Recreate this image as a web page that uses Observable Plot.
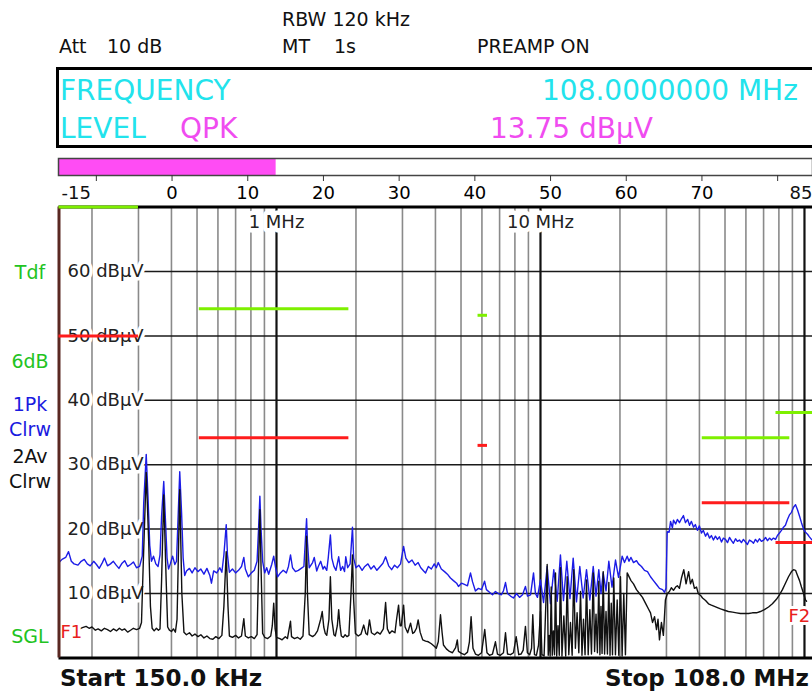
<!DOCTYPE html>
<html><head><meta charset="utf-8">
<script src="https://cdn.jsdelivr.net/npm/d3@7"></script>
<script src="https://cdn.jsdelivr.net/npm/@observablehq/plot@0.6"></script>
<style>
html,body{margin:0;padding:0;background:#fff;}
#page{position:relative;width:812px;height:692px;overflow:hidden;font-family:"DejaVu Sans",sans-serif;background:#fff;}
#page svg{position:absolute;left:0;}
.t{position:absolute;white-space:nowrap;line-height:1;color:#111;}
.side{position:absolute;left:0;width:60px;text-align:center;font-size:19px;line-height:1;}
</style></head><body><div id="page"></div>
<script>
// ---- sweep definition ----
const startFreq = 0.15, stopFreq = 108;          // MHz
const levelTicks = [10, 20, 30, 40, 50, 60];      // dBµV
const minorFreqs = [0.2,0.3,0.4,0.5,0.6,0.7,0.8,0.9, 2,3,4,5,6,7,8,9, 20,30,40,50,60,70,80,90];
const decadeFreqs = [1, 10, 100];
const decadeLabels = [1, 10];

// ---- trace 1: peak (1Pk Clrw) ----
const peakFreq = [0.150,0.154,0.159,0.163,0.167,0.171,0.177,0.182,0.187,0.192,0.197,0.203,0.208,0.213,0.219,0.223,0.229,0.235,0.241,0.247,0.253,0.260,0.266,0.273,0.280,0.287,0.295,0.303,0.310,0.314,0.321,0.326,0.331,0.336,0.342,0.349,0.356,0.362,0.367,0.374,0.380,0.385,0.390,0.396,0.404,0.412,0.418,0.424,0.430,0.437,0.443,0.449,0.456,0.468,0.479,0.491,0.504,0.517,0.531,0.545,0.559,0.567,0.578,0.594,0.610,0.621,0.632,0.645,0.652,0.663,0.681,0.700,0.718,0.737,0.752,0.762,0.782,0.803,0.824,0.844,0.855,0.865,0.874,0.886,0.902,0.918,0.934,0.959,0.976,0.992,1.01,1.035,1.06,1.09,1.11,1.13,1.15,1.18,1.21,1.24,1.27,1.285,1.30,1.31,1.33,1.37,1.39,1.42,1.44,1.47,1.50,1.52,1.55,1.57,1.60,1.62,1.65,1.68,1.72,1.75,1.78,1.81,1.83,1.86,1.90,1.94,1.96,2.00,2.05,2.11,2.16,2.22,2.28,2.34,2.40,2.47,2.53,2.59,2.66,2.73,2.80,2.87,2.95,3.03,3.09,3.17,3.26,3.35,3.44,3.52,3.61,3.67,3.76,3.86,3.96,4.03,4.10,4.21,4.33,4.44,4.56,4.68,4.81,4.89,5.02,5.15,5.29,5.43,5.53,5.67,5.82,5.98,6.14,6.24,6.41,6.58,6.75,6.93,7.11,7.24,7.37,7.50,7.70,7.90,8.11,8.33,8.55,8.77,8.93,9.17,9.41,9.57,9.74,10.0,10.27,10.60,10.91,11.23,11.57,11.90,12.22,12.58,12.93,13.30,13.69,14.09,14.51,14.94,15.38,15.84,16.23,16.63,16.95,17.28,17.71,18.15,18.66,19.24,19.75,20.39,20.81,21.30,21.64,22.02,22.51,23.10,23.51,24.13,24.77,25.43,26.11,26.79,27.51,28.23,29.0,29.5,29.88,30.2,30.7,31.1,31.6,31.9,32.5,33.0,33.6,34.2,34.8,35.4,36.1,36.7,37.3,38.0,38.6,39.3,40.0,40.7,41.4,42.2,42.9,43.7,44.4,45.2,46.0,46.8,47.6,48.5,49.3,50.2,51.1,52.0,52.9,53.8,54.8,55.7,56.7,57.7,58.7,59.8,60.8,61.9,63.0,64.1,65.2,66.4,67.5,68.7,70.0,71.2,72.4,73.7,75.0,76.3,77.7,79.0,80.4,81.8,83.3,84.7,86.2,87.7,89.3,90.9,92.5,94.1,95.8,97.4,99.2,100.9,102.7,104.4,106.3,108.0];
const peakLevel = [14.8,15.3,15.6,16.5,15.0,14.6,14.4,15.0,15.3,14.6,14.3,15.0,14.5,13.9,14.8,15.5,14.3,14.6,15.0,14.4,13.9,14.7,15.1,14.2,14.5,14.9,14.0,14.2,15.8,24.0,31.6,25.0,17.5,15.0,15.8,14.6,14.2,16.0,22.0,27.4,21.0,15.5,13.8,14.6,15.8,14.5,15.0,22.0,28.9,22.5,15.5,12.8,13.5,13.9,13.2,14.0,13.4,13.8,13.0,13.9,12.8,11.6,13.5,13.2,14.0,13.3,16.0,20.7,16.0,13.3,13.8,13.2,13.6,14.2,15.6,13.8,12.6,13.2,13.6,15.0,20.0,25.1,20.0,15.0,13.2,14.0,13.0,14.5,15.8,14.0,12.6,13.2,13.6,13.2,14.2,16.0,14.0,13.4,13.6,13.9,14.2,18.0,21.6,18.0,14.0,14.8,15.6,13.5,14.2,15.0,13.8,14.2,13.6,15.5,19.1,15.5,14.2,13.6,15.7,13.6,14.2,13.4,15.7,14.0,14.6,20.3,15.5,14.0,14.4,13.6,14.2,14.6,13.8,14.3,13.6,14.2,14.7,15.7,14.3,13.7,14.4,14.0,14.6,17.3,15.5,14.8,15.2,14.4,14.8,14.0,13.5,13.2,14.2,13.8,14.6,14.0,14.8,13.8,13.4,13.0,12.4,12.0,11.6,11.1,11.6,11.4,11.2,13.2,11.8,10.4,10.8,10.6,11.9,10.6,10.2,9.8,10.3,10.0,9.8,10.4,11.7,10.0,9.6,9.3,10.0,9.4,9.8,11.1,9.6,9.8,13.2,10.0,9.4,12.1,8.6,14.2,8.4,13.7,8.8,16.0,8.9,15.0,9.2,15.5,8.7,14.2,9.3,13.7,9.0,14.2,9.6,13.7,10.0,13.2,10.4,15.0,11.0,15.2,12.5,15.8,14.8,15.8,15.0,15.6,14.8,15.1,14.6,14.2,13.6,13.4,12.6,12.0,11.4,10.8,10.6,10.2,10.8,19.6,19.5,21.2,20.2,21.4,20.8,21.5,21.0,21.6,22.1,21.0,21.5,20.6,21.2,20.3,20.7,19.8,20.5,19.4,19.8,18.9,19.4,18.6,19.0,18.3,18.9,18.4,18.8,18.0,18.6,18.4,17.9,18.7,18.2,17.8,18.5,18.1,18.3,17.9,18.4,18.0,17.6,18.3,18.1,17.8,18.4,18.0,18.5,18.1,18.3,18.7,18.2,18.6,18.3,18.6,18.4,19.0,19.4,19.8,20.3,20.6,21.5,22.2,22.6,23.4,23.8,23.0,22.0,21.0,20.0,19.5,19.2,18.8,18.4,18.2];

// ---- trace 2: average (2Av Clrw) ----
const avgFreq = [0.150,0.154,0.159,0.165,0.171,0.177,0.184,0.190,0.195,0.200,0.206,0.211,0.217,0.223,0.229,0.235,0.241,0.248,0.254,0.260,0.266,0.273,0.280,0.287,0.295,0.303,0.308,0.313,0.321,0.328,0.333,0.338,0.344,0.351,0.357,0.362,0.367,0.374,0.382,0.387,0.393,0.400,0.407,0.414,0.420,0.430,0.438,0.446,0.456,0.468,0.479,0.491,0.504,0.517,0.531,0.545,0.559,0.574,0.589,0.605,0.621,0.632,0.645,0.655,0.663,0.681,0.700,0.718,0.737,0.752,0.762,0.782,0.803,0.824,0.844,0.855,0.865,0.874,0.886,0.902,0.926,0.951,0.964,0.976,0.988,1.00,1.03,1.05,1.08,1.10,1.13,1.14,1.17,1.20,1.23,1.26,1.285,1.30,1.31,1.33,1.37,1.40,1.43,1.47,1.49,1.51,1.53,1.55,1.58,1.60,1.62,1.65,1.67,1.70,1.72,1.74,1.76,1.79,1.82,1.85,1.88,1.915,1.94,1.96,1.99,2.04,2.09,2.14,2.18,2.21,2.25,2.29,2.35,2.41,2.47,2.54,2.59,2.63,2.68,2.74,2.81,2.85,2.90,2.94,2.97,3.03,3.07,3.14,3.22,3.28,3.33,3.39,3.44,3.50,3.58,3.67,3.76,3.86,3.96,4.03,4.10,4.18,4.24,4.29,4.40,4.52,4.64,4.77,4.84,4.89,5.02,5.15,5.29,5.38,5.46,5.55,5.67,5.82,5.98,6.15,6.27,6.41,6.58,6.75,6.87,7.05,7.24,7.37,7.50,7.70,7.90,8.09,8.27,8.44,8.60,8.77,8.92,9.10,9.25,9.35,9.49,9.65,9.83,10.0,10.13,10.32,10.60,10.70,10.79,10.88,10.98,11.08,11.19,11.30,11.40,11.52,11.65,11.78,11.90,12.06,12.26,12.46,12.62,12.80,12.99,13.18,13.37,13.56,13.76,13.97,14.18,14.36,14.55,14.75,14.94,15.16,15.38,15.60,15.84,16.03,16.23,16.43,16.63,16.79,16.95,17.11,17.28,17.49,17.71,17.93,18.15,18.34,18.54,18.74,18.95,19.23,19.52,19.80,20.09,20.38,20.68,20.98,21.30,22.02,22.51,23.10,23.71,24.34,24.98,25.65,26.11,26.57,27.04,27.51,27.87,28.23,28.72,29.21,29.73,30.25,30.8,31.3,31.9,32.5,33.0,33.6,34.2,34.9,35.6,36.4,37.0,37.6,38.3,39.0,39.6,40.4,41.1,42.2,43.3,44.4,45.6,46.8,48.1,49.8,51.5,53.4,55.3,57.2,59.3,61.4,63.5,65.8,68.1,70.5,73.1,75.6,78.3,80.4,82.5,84.7,87.0,89.3,90.9,92.5,94.1,95.8,97.4,99.2,100.9,101.8];
const avgLevel = [4.8,4.6,4.9,4.5,4.8,4.4,4.7,4.9,4.6,4.8,4.3,4.5,4.2,4.6,4.4,4.1,4.5,4.2,4.6,4.3,4.5,4.0,4.3,4.6,4.4,4.6,5.5,15.0,28.8,18.0,8.0,4.6,4.2,4.6,4.3,4.5,12.0,25.3,12.0,4.8,4.3,4.1,4.5,4.0,6.0,26.1,10.0,4.0,3.6,3.9,3.4,3.7,3.3,3.6,3.1,3.4,3.0,2.9,3.3,3.0,3.5,8.0,16.5,8.0,3.4,3.2,3.5,3.1,3.4,6.1,3.4,3.1,3.3,3.0,3.6,14.0,23.0,14.0,3.8,3.2,3.0,3.4,5.0,8.5,4.5,3.2,3.0,2.8,3.3,3.0,5.7,3.3,3.0,3.2,2.9,3.4,10.0,18.9,10.0,3.6,3.3,3.6,4.2,6.0,7.2,4.8,3.8,3.5,6.0,12.6,6.0,3.6,3.4,5.0,7.5,5.0,3.4,3.2,3.6,3.3,3.5,10.0,16.0,9.0,3.8,3.4,3.7,5.1,3.8,3.6,5.9,3.9,3.6,4.0,3.7,4.5,8.6,4.5,3.8,4.2,3.9,6.0,8.2,5.0,5.0,8.2,4.8,3.9,5.4,3.8,4.0,4.6,5.9,4.0,2.8,2.6,2.5,2.2,1.8,1.5,2.5,6.7,3.9,2.0,1.4,1.0,0.8,1.6,2.8,1.0,0.7,0.5,0.9,2.5,6.4,1.5,0.6,0.4,0.8,4.4,0.8,0.4,0.6,2.5,0.6,0.4,0.8,3.9,0.6,0.5,0.8,3.3,0.5,0.6,1.2,4.9,0.8,0.5,1.5,6.7,0.5,0.4,2.0,7.2,0.5,0.3,14.5,0.4,3.5,0.3,11.0,0.4,4.2,0.5,13.2,0.3,5.0,0.4,14.0,0.3,6.5,0.3,12.6,0.5,5.5,0.4,13.7,1.5,7.0,0.8,10.3,0.4,6.0,0.5,12.1,0.5,7.5,0.6,13.2,1.0,6.8,0.8,11.9,0.5,8.0,0.7,13.4,0.6,7.2,0.6,11.7,0.4,8.5,0.5,12.4,0.5,9.0,0.4,12.6,0.3,10.0,0.5,13.2,12.0,11.5,10.6,10.0,9.4,8.5,7.6,7.0,5.5,6.4,4.4,6.0,2.8,5.5,3.5,9.0,10.0,10.3,10.9,10.5,11.0,11.2,10.8,12.4,13.7,11.5,13.4,11.5,12.2,10.8,11.0,10.0,9.7,9.3,8.9,8.4,8.2,8.0,7.8,7.6,7.4,7.2,7.1,7.0,6.9,6.9,6.9,7.0,7.0,7.2,7.5,7.9,8.4,9.1,9.8,10.6,11.6,12.6,13.4,13.7,13.6,12.8,12.0,11.0,10.0,9.0,8.8];

// ---- limit lines ----
const limitStart = [0.15, 0.51, 5.8, 41, 78];
const limitStop  = [0.30, 1.88, 6.3, 88, 108];
const limitPeak  = [70, 54.2, 53.2, 34.2, 38.1];
const limitAvg   = [50, 34.2, 33.0, 24.1, 17.9];

// ---- level meter ----
const meterMin = -15, meterMax = 85, meterValue = 13.75;
const meterTicks = [-10, 0, 10, 20, 30, 40, 50, 60, 70, 80];
const meterLabels = [0, 10, 20, 30, 40, 50, 60, 70];

const gridFrom = 0.3;   // level grid starts right of the label column

const peak = peakFreq.map((f, i) => ({f, v: peakLevel[i]}));
const avg = avgFreq.map((f, i) => ({f, v: avgLevel[i]}));
const limits = limitStart.map((s, i) => ({s, e: limitStop[i], pk: limitPeak[i], av: limitAvg[i]}));

const W = 812, H = 692;
const top0 = 206.6, bot0 = 657.4;
const green = "#7ef000", red = "#ff1c1c";

const chart = Plot.plot({
  width: W, height: H,
  marginTop: top0, marginBottom: H - bot0, marginLeft: 58.5, marginRight: 0,
  x: {type: "log", domain: [startFreq, stopFreq], range: [58.5, 812.8], axis: null},
  y: {domain: [0, 70], range: [bot0, top0], axis: null},
  style: {fontFamily: "DejaVu Sans", background: "transparent", overflow: "visible"},
  marks: [
    Plot.ruleX(minorFreqs, {stroke: "#8a8a8a", strokeWidth: 1.6}),
    Plot.ruleY(levelTicks, {x1: () => gridFrom, x2: () => stopFreq, stroke: "#1a1a1a", strokeWidth: 1.5}),
    Plot.ruleX(decadeFreqs, {stroke: "#111", strokeWidth: 2.2}),
    Plot.text(levelTicks, {x: () => startFreq, y: d => d, text: d => `${d} dBµV`, textAnchor: "start", dx: 8.5,
      fontSize: 18, fill: "#222", stroke: "white", strokeWidth: 7, paintOrder: "stroke"}),
    Plot.text(decadeLabels, {x: d => d, frameAnchor: "top", lineAnchor: "middle", dy: 15.4, text: d => `${d} MHz`,
      fontSize: 18, fill: "#222", stroke: "white", strokeWidth: 9, paintOrder: "stroke"}),
    Plot.line(peak, {x: "f", y: "v", stroke: "#1c1ce6", strokeWidth: 1.4, clip: true}),
    Plot.line(avg, {x: "f", y: "v", stroke: "#111", strokeWidth: 1.4, clip: true}),
    Plot.text(["F1"], {x: () => startFreq, frameAnchor: "bottom", lineAnchor: "middle", dy: -25.4, dx: 1.5, text: d => d, textAnchor: "start",
      fontSize: 18, fill: "#e8201c", stroke: "white", strokeWidth: 6, paintOrder: "stroke"}),
    Plot.text(["F2"], {x: () => stopFreq, frameAnchor: "bottom", lineAnchor: "middle", dy: -41.4, dx: -3, text: d => d, textAnchor: "end",
      fontSize: 18, fill: "#e8201c", stroke: "white", strokeWidth: 6, paintOrder: "stroke"}),
    Plot.ruleY([0], {stroke: "#000", strokeWidth: 3}),
    Plot.ruleY([70], {stroke: "#000", strokeWidth: 3}),
    Plot.ruleX([startFreq], {stroke: "#5a2822", strokeWidth: 3}),
    Plot.ruleY(limits, {y: "pk", x1: "s", x2: "e", stroke: green, strokeWidth: 3}),
    Plot.ruleY(limits, {y: "av", x1: "s", x2: "e", stroke: red, strokeWidth: 3})
  ]
});

const meter = Plot.plot({
  width: W, height: 56, marginTop: 8, marginBottom: 31, marginLeft: 58, marginRight: 0,
  x: {domain: [meterMin, meterMax], range: [58, 815], axis: null},
  style: {fontFamily: "DejaVu Sans", background: "transparent", overflow: "visible"},
  marks: [
    Plot.barX([meterValue], {x1: () => meterMin, x2: d => d, fill: "#ff4cf4"}),
    Plot.frame({stroke: "#444", strokeWidth: 1.5}),
    Plot.axisX(meterTicks, {anchor: "bottom", tickSize: 6, tickPadding: 5, fontSize: 18, stroke: "#333",
      tickFormat: d => meterLabels.includes(d) ? String(d) : ""}),
    Plot.text([meterMin], {x: d => d, frameAnchor: "bottom", lineAnchor: "middle", dy: 18, dx: 3, text: d => String(d), textAnchor: "start", fontSize: 18, fill: "#111"}),
    Plot.text([meterMax], {x: d => d, frameAnchor: "bottom", lineAnchor: "middle", dy: 18, dx: -3, text: d => String(d), textAnchor: "end", fontSize: 18, fill: "#111"})
  ]
});

const page = document.getElementById("page");
chart.style.top = "0px";
page.appendChild(chart);
meter.style.top = "150px";
page.appendChild(meter);

const html = `
<div class="t" style="left:282px;top:10px;font-size:19px">RBW 120 kHz</div>
<div class="t" style="left:59px;top:37px;font-size:19px">Att</div>
<div class="t" style="left:107px;top:37px;font-size:19px">10 dB</div>
<div class="t" style="left:282px;top:37px;font-size:19px">MT</div>
<div class="t" style="left:334px;top:37px;font-size:19px">1s</div>
<div class="t" style="left:477px;top:37px;font-size:19px">PREAMP ON</div>
<div style="position:absolute;left:56px;top:67px;width:800px;height:81px;border:3px solid #000;box-sizing:border-box"></div>
<div class="t" style="left:60px;top:77px;font-size:28px;color:#22e3ec">FREQUENCY</div>
<div class="t" style="left:542px;top:77px;font-size:28px;color:#22e3ec">108.0000000 MHz</div>
<div class="t" style="left:60px;top:115px;font-size:28px;color:#22e3ec">LEVEL</div>
<div class="t" style="left:180px;top:115px;font-size:28px;color:#f04cf0">QPK</div>
<div class="t" style="left:490px;top:115px;font-size:28px;color:#f04cf0">13.75 dBµV</div>
<div class="side" style="top:263px;color:#22c322">Tdf</div>
<div class="side" style="top:352px;color:#22c322">6dB</div>
<div class="side" style="top:395px;color:#1a1ae0">1Pk</div>
<div class="side" style="top:420px;color:#1a1ae0">Clrw</div>
<div class="side" style="top:447px;color:#111">2Av</div>
<div class="side" style="top:472px;color:#111">Clrw</div>
<div class="side" style="top:627px;color:#22c322">SGL</div>
<div class="t" style="left:60px;top:667px;font-size:23px;font-weight:bold">Start 150.0 kHz</div>
<div class="t" style="right:3px;top:667px;font-size:23px;font-weight:bold">Stop 108.0 MHz</div>
`;
page.insertAdjacentHTML("beforeend", html);
</script></body></html>
